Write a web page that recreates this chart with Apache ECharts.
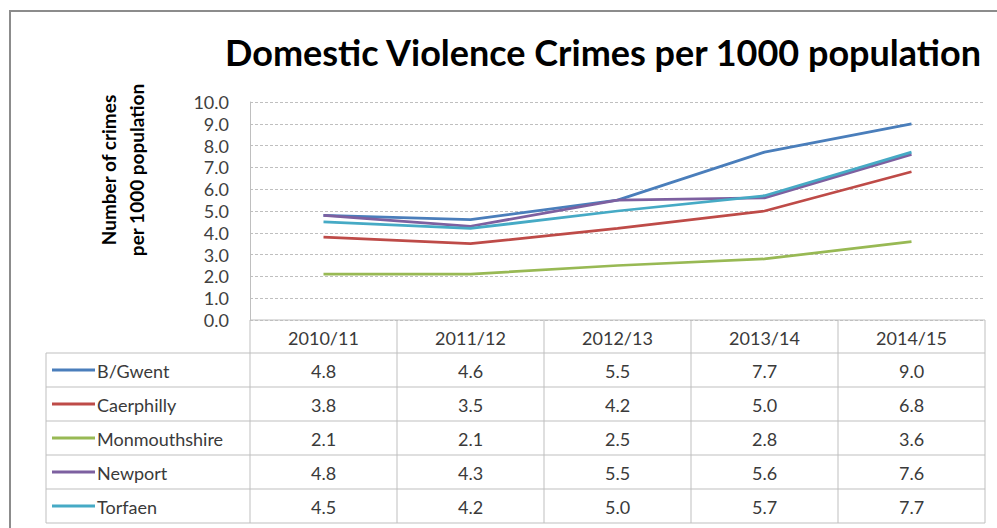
<!DOCTYPE html>
<html>
<head>
<meta charset="utf-8">
<script src="https://cdn.jsdelivr.net/npm/echarts@6/dist/echarts.min.js"></script>
<style>
  html, body { margin: 0; padding: 0; background: #fff; }
  #main { width: 997px; height: 528px; }
</style>
</head>
<body>
<div id="main"></div>
<script>
// data
var years = ['2010/11', '2011/12', '2012/13', '2013/14', '2014/15'];
var areas = ['B/Gwent', 'Caerphilly', 'Monmouthshire', 'Newport', 'Torfaen'];
var bGwent = [4.8, 4.6, 5.5, 7.7, 9.0];
var caerphilly = [3.8, 3.5, 4.2, 5.0, 6.8];
var monmouthshire = [2.1, 2.1, 2.5, 2.8, 3.6];
var newport = [4.8, 4.3, 5.5, 5.6, 7.6];
var torfaen = [4.5, 4.2, 5.0, 5.7, 7.7];
var yTicks = [0, 1, 2, 3, 4, 5, 6, 7, 8, 9, 10];

var allValues = [bGwent, caerphilly, monmouthshire, newport, torfaen];
var colors = ['#4a7ebb', '#be4b48', '#98b954', '#7d60a0', '#46aac5'];
var font = 'Lato, "Open Sans", sans-serif';
var gridCol = '#bfbfbf';

var chart = echarts.init(document.getElementById('main'), null, { renderer: 'svg' });

var series = [];
for (var i = 0; i < areas.length; i++) {
    series.push({
        name: areas[i],
        type: 'line',
        data: allValues[i],
        symbol: 'none',
        lineStyle: { color: colors[i], width: 2.75 },
        itemStyle: { color: colors[i] }
    });
}

chart.setOption({
    animation: false,
    backgroundColor: '#fff',
    title: {
        text: 'Domestic Violence Crimes per 1000 population',
        left: 598, top: 29,
        textAlign: 'center',
        textStyle: { fontFamily: font, fontSize: 36, fontWeight: 'bold', color: '#000' }
    },
    grid: { left: 250, right: 12, top: 102, bottom: 208 },
    xAxis: {
        type: 'category',
        data: years,
        boundaryGap: true,
        axisLine: { show: false },
        axisTick: { show: false },
        axisLabel: { show: false }
    },
    yAxis: {
        type: 'value',
        min: yTicks[0], max: yTicks[yTicks.length - 1], interval: 1,
        axisLine: { show: true, lineStyle: { color: gridCol, width: 1 } },
        axisTick: { show: false },
        axisLabel: {
            margin: 21,
            fontFamily: font, fontSize: 18, color: '#404040',
            formatter: function (v) { return v.toFixed(1); }
        },
        splitLine: { show: true, lineStyle: { color: gridCol, type: [3, 2], width: 1 } }
    },
    series: series
});

// data table under the plot, placed from the axis scales
function buildTable() {
    var c0 = chart.convertToPixel({ xAxisIndex: 0 }, years[0]);
    var c1 = chart.convertToPixel({ xAxisIndex: 0 }, years[1]);
    var colW = c1 - c0;
    var left = c0 - colW / 2;
    var right = left + colW * years.length;
    var top = chart.convertToPixel({ yAxisIndex: 0 }, 0);
    var headH = 33, rowH = 34;
    var labLeft = 46;
    var bottom = top + headH + rowH * areas.length;
    var g = [];
    var ls = { stroke: gridCol, lineWidth: 1 };

    // outer frame of chart
    g.push({ type: 'rect', shape: { x: 10, y: 11, width: 1000, height: 530 },
        style: { fill: null, stroke: '#8c8c8c', lineWidth: 2 }, z: 100 });

    // y axis name
    g.push({
        type: 'text', x: 122, y: 170, rotation: Math.PI / 2,
        style: {
            text: 'Number of crimes\nper 1000 population',
            fontFamily: font, fontSize: 19, fontWeight: 'bold', fill: '#000',
            align: 'center', verticalAlign: 'middle', lineHeight: 28
        }
    });

    g.push({ type: 'line', shape: { x1: left, y1: top, x2: right, y2: top }, style: ls });
    for (var r = 0; r <= areas.length; r++) {
        var yy = top + headH + rowH * r;
        g.push({ type: 'line', shape: { x1: labLeft, y1: yy, x2: right, y2: yy }, style: ls });
    }
    for (var c = 0; c <= years.length; c++) {
        var xx = left + colW * c;
        g.push({ type: 'line', shape: { x1: xx, y1: top, x2: xx, y2: bottom }, style: ls });
    }
    g.push({ type: 'line', shape: { x1: labLeft, y1: top + headH, x2: labLeft, y2: bottom }, style: ls });

    var txt = { fontFamily: font, fontSize: 18, fill: '#3a3a3a', align: 'center', verticalAlign: 'middle' };
    for (var k = 0; k < years.length; k++) {
        var cx = chart.convertToPixel({ xAxisIndex: 0 }, years[k]);
        g.push({ type: 'text', x: cx, y: top + headH / 2 + 1, style: Object.assign({ text: years[k] }, txt) });
        for (var j = 0; j < areas.length; j++) {
            g.push({ type: 'text', x: cx, y: top + headH + rowH * j + rowH / 2 + 1,
                style: Object.assign({ text: allValues[j][k].toFixed(1) }, txt) });
        }
    }
    for (var a = 0; a < areas.length; a++) {
        var cy = top + headH + rowH * a + rowH / 2;
        g.push({ type: 'line', shape: { x1: 52, y1: cy, x2: 95, y2: cy },
            style: { stroke: colors[a], lineWidth: 3 } });
        g.push({ type: 'text', x: 97, y: cy + 1,
            style: { text: areas[a], fontFamily: font, fontSize: 18, fill: '#3a3a3a', align: 'left', verticalAlign: 'middle' } });
    }
    chart.setOption({ graphic: g });
}
buildTable();
</script>
</body>
</html>
